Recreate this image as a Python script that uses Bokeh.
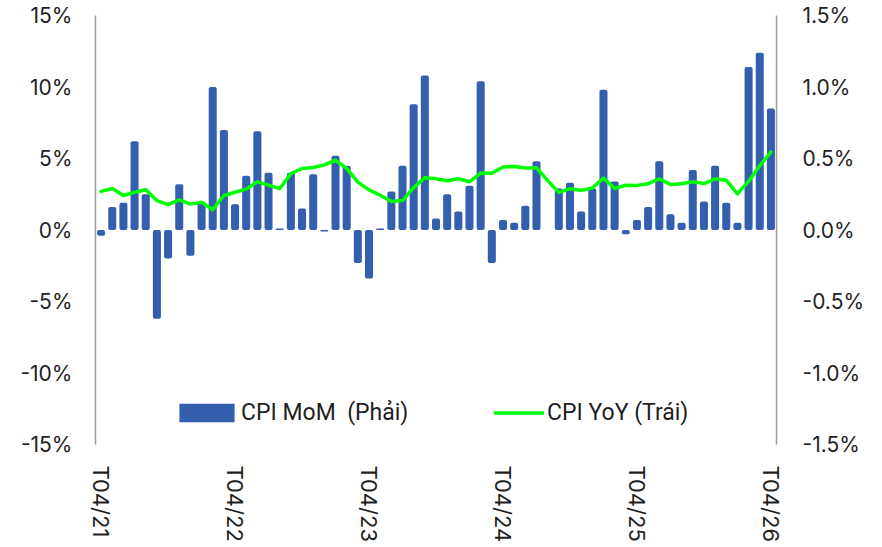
from bokeh.plotting import figure
from bokeh.models import (LinearAxis, Range1d, FixedTicker, PrintfTickFormatter,
                          Legend, LegendItem, ColumnDataSource)
from bokeh.embed import file_html
from bokeh.resources import INLINE

# CPI MoM (%), right axis, T04/21 .. T04/26
cpi_mom = [-0.04, 0.16, 0.19, 0.62, 0.25, -0.62, -0.20, 0.32, -0.18,
           0.20, 1.00, 0.70, 0.18, 0.38, 0.69, 0.40, 0.01, 0.40, 0.15, 0.39, -0.01,
           0.52, 0.45, -0.23, -0.34, 0.01, 0.27, 0.45, 0.88, 1.08, 0.08, 0.25, 0.13,
           0.31, 1.04, -0.23, 0.07, 0.05, 0.17, 0.48, 0.00, 0.29, 0.33, 0.13, 0.29,
           0.98, 0.34, -0.03, 0.07, 0.16, 0.48, 0.11, 0.05, 0.42, 0.20, 0.45, 0.19,
           0.05, 1.14, 1.24, 0.85]

# CPI YoY (%), left axis
cpi_yoy = [2.70, 2.90, 2.41, 2.64, 2.82, 2.06, 1.77, 2.10, 1.81,
           1.94, 1.42, 2.41, 2.64, 2.86, 3.37, 3.14, 2.89, 3.94, 4.30, 4.37, 4.55,
           4.89, 4.31, 3.35, 2.81, 2.43, 2.00, 2.06, 2.96, 3.66, 3.59, 3.45, 3.58,
           3.37, 3.98, 3.97, 4.40, 4.44, 4.34, 4.36, 3.45, 2.63, 2.89, 2.77, 2.94,
           3.63, 2.91, 3.13, 3.12, 3.24, 3.57, 3.19, 3.24, 3.38, 3.25, 3.58, 3.48,
           2.53, 3.40, 4.50, 5.45]

month_index = list(range(len(cpi_mom)))
tick_positions = [0, 12, 24, 36, 48, 60]
tick_labels = ["T04/21", "T04/22", "T04/23", "T04/24", "T04/25", "T04/26"]
left_ticks = [-15, -10, -5, 0, 5, 10, 15]
right_ticks = [-1.5, -1.0, -0.5, 0.0, 0.5, 1.0, 1.5]

src = ColumnDataSource(dict(x=month_index, mom=cpi_mom, yoy=cpi_yoy))

FONT = "Inter"
TXT = "#1f1f1f"
AXC = "#9b9b9b"

p = figure(width=874, height=545, x_range=Range1d(-0.5, 60.5), y_range=Range1d(-15, 15),
           output_backend="svg", toolbar_location=None,
           min_border_left=95, min_border_right=98, min_border_top=15, min_border_bottom=98)
p.extra_y_ranges = {"mom": Range1d(-1.5, 1.5)}
p.grid.visible = False
p.outline_line_color = None
p.background_fill_color = "white"
p.border_fill_color = "white"

bars = p.vbar(x="x", top="mom", bottom=0, width=0.72, source=src, y_range_name="mom",
              fill_color="#335FAE", line_color=None, border_radius=2)
line = p.line(x="x", y="yoy", source=src, line_color="#00FF00", line_width=3.5,
              line_join="round", line_cap="round")

# left axis
ya = p.yaxis[0]
ya.ticker = FixedTicker(ticks=left_ticks)
ya.formatter = PrintfTickFormatter(format="%d%%")
ya.axis_line_color = AXC
ya.axis_line_width = 1.5
ya.major_tick_line_color = None
ya.minor_tick_line_color = None
ya.major_label_text_font = FONT
ya.major_label_text_font_size = "21px"
ya.major_label_text_color = TXT
ya.major_label_standoff = 17

# right axis
ra = LinearAxis(y_range_name="mom", ticker=FixedTicker(ticks=right_ticks),
                formatter=PrintfTickFormatter(format="%.1f%%"))
ra.axis_line_color = AXC
ra.axis_line_width = 1.5
ra.major_tick_line_color = None
ra.minor_tick_line_color = None
ra.major_label_text_font = FONT
ra.major_label_text_font_size = "21px"
ra.major_label_text_color = TXT
ra.major_label_standoff = 20
p.add_layout(ra, "right")

# bottom axis
xa = p.xaxis[0]
xa.ticker = FixedTicker(ticks=tick_positions)
xa.major_label_overrides = {k: v for k, v in zip(tick_positions, tick_labels)}
xa.major_label_orientation = "vertical"
xa.axis_line_color = None
xa.major_tick_line_color = None
xa.minor_tick_line_color = None
xa.major_label_text_font = FONT
xa.major_label_text_font_size = "22px"
xa.major_label_text_color = TXT
xa.major_label_standoff = 15

leg1 = Legend(items=[LegendItem(label="CPI MoM  (Phải)", renderers=[bars])],
              location=(77, 18), orientation="horizontal", glyph_width=69, glyph_height=23,
              label_standoff=0, padding=0, margin=0, border_line_color=None,
              background_fill_alpha=0, label_text_font="Roboto",
              label_text_font_size="23px", label_text_color=TXT, label_height=23)
leg2 = Legend(items=[LegendItem(label="CPI YoY (Trái)", renderers=[line])],
              location=(399, 18), orientation="horizontal", glyph_width=50, glyph_height=23,
              label_standoff=3, padding=0, margin=0, border_line_color=None,
              background_fill_alpha=0, label_text_font="Roboto",
              label_text_font_size="23px", label_text_color=TXT, label_height=23)
p.add_layout(leg1, "center")
p.add_layout(leg2, "center")

open("out.html", "w").write(file_html(p, INLINE))
